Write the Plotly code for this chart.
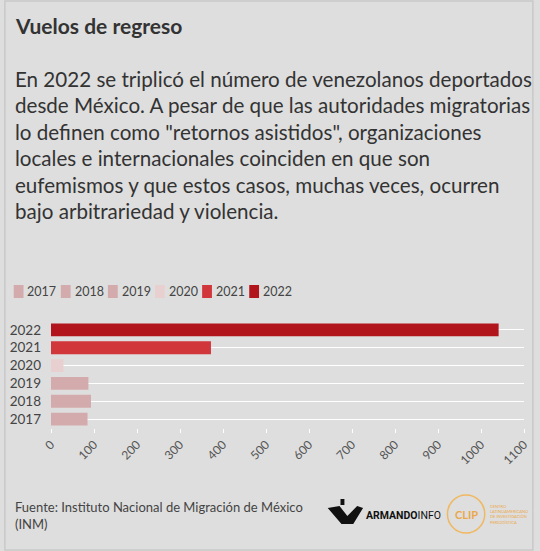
import plotly.graph_objects as go

years = ["2017", "2018", "2019", "2020", "2021", "2022"]
values = [85, 93, 87, 29, 372, 1041]
colors = ["#d4abac", "#d4abac", "#d4abac", "#e9d0d0", "#d1363b", "#b1151b"]
x_ticks = list(range(0, 1101, 100))

title = "Vuelos de regreso"
subtitle_lines = [
    "En 2022 se triplicó el número de venezolanos deportados",
    "desde México. A pesar de que las autoridades migratorias",
    "lo definen como \"retornos asistidos\", organizaciones",
    "locales e internacionales coinciden en que son",
    "eufemismos y que estos casos, muchas veces, ocurren",
    "bajo arbitrariedad y violencia.",
]
source = "Fuente: Instituto Nacional de Migración de México<br>(INM)"

FW, FH = 540, 551
L, R, T, B = 48, 10, 321, 123
W = FW - L - R
H = FH - T - B
FONT = "Lato, 'Source Sans Pro', sans-serif"


def px(x):
    return (x - L) / W


def py(y):
    return (FH - B - y) / H


fig = go.Figure()
for yr, v, c in zip(years, values, colors):
    fig.add_trace(go.Bar(y=[yr], x=[v], orientation="h", name=yr,
                         marker=dict(color=c, line=dict(width=0)),
                         showlegend=False))

shapes = []
annotations = []

# border
shapes.append(dict(type="rect", xref="paper", yref="paper",
                   x0=px(1), x1=px(539), y0=py(550), y1=py(1),
                   line=dict(color="#c9c9c9", width=1.5), fillcolor="rgba(0,0,0,0)",
                   layer="below"))

# manual legend
for i, (yr, c) in enumerate(zip(years, colors)):
    x0 = 10 + 48 * i
    shapes.append(dict(type="rect", xref="paper", yref="paper",
                       x0=px(x0), x1=px(x0 + 10), y0=py(298), y1=py(285),
                       fillcolor=c, line=dict(width=0)))
    annotations.append(dict(text=yr, xref="paper", yref="paper",
                            x=px(x0 + 12), y=py(291.5), xanchor="left", yanchor="middle",
                            showarrow=False, font=dict(size=12.5, color="#444", family=FONT)))

annotations.append(dict(text="<b>" + title + "</b>", xref="paper", yref="paper",
                        x=px(9), y=py(25), xanchor="left", yanchor="middle",
                        showarrow=False, font=dict(size=21, color="#333", family=FONT)))
for i, line in enumerate(subtitle_lines):
    annotations.append(dict(text=line, xref="paper", yref="paper",
                            x=px(9), y=py(79 + 26.4 * i), xanchor="left", yanchor="middle",
                            showarrow=False, font=dict(size=20.6, color="#333", family=FONT)))
annotations.append(dict(text=source, xref="paper", yref="paper",
                        x=px(9), y=py(497), xanchor="left", yanchor="top", align="left",
                        showarrow=False, font=dict(size=13, color="#444", family=FONT)))

# ARMANDOINFO logo (approximation)
shapes.append(dict(type="path", xref="paper", yref="paper",
                   path=(f"M {px(330)},{py(508)} L {px(342)},{py(506)} L {px(350)},{py(516)} "
                         f"L {px(360)},{py(506)} L {px(366)},{py(508)} L {px(356)},{py(524)} "
                         f"L {px(344)},{py(524)} Z"),
                   fillcolor="#111", line=dict(width=0)))
shapes.append(dict(type="rect", xref="paper", yref="paper",
                   x0=px(343), x1=px(347), y0=py(505), y1=py(499),
                   fillcolor="#111", line=dict(width=0)))
annotations.append(dict(text="<b>ARMANDO</b>INFO", xref="paper", yref="paper",
                        x=px(367), y=py(515), xanchor="left", yanchor="middle",
                        showarrow=False,
                        font=dict(size=10.5, color="#111", family="'Liberation Sans Narrow', 'Roboto', sans-serif")))

# CLIP logo (approximation)
shapes.append(dict(type="circle", xref="paper", yref="paper",
                   x0=px(452), x1=px(490), y0=py(533), y1=py(495),
                   line=dict(color="#f0b860", width=1.5), fillcolor="rgba(0,0,0,0)"))
annotations.append(dict(text="<b>CLIP</b>", xref="paper", yref="paper",
                        x=px(471), y=py(514), xanchor="center", yanchor="middle",
                        showarrow=False, font=dict(size=11, color="#eba84a", family=FONT)))
annotations.append(dict(text="CENTRO<br>LATINOAMERICANO<br>DE INVESTIGACIÓN<br>PERIODÍSTICA",
                        xref="paper", yref="paper",
                        x=px(493), y=py(514), xanchor="left", yanchor="middle", align="left",
                        showarrow=False, font=dict(size=4, color="#eba84a", family=FONT)))

fig.update_layout(
    width=FW, height=FH,
    margin=dict(l=L, r=R, t=T, b=B),
    paper_bgcolor="#dedede", plot_bgcolor="#dedede",
    barmode="overlay", bargap=0.28,
    showlegend=False,
    font=dict(family=FONT, color="#555"),
    shapes=shapes, annotations=annotations,
    xaxis=dict(range=[0, 1100], tickvals=x_ticks, tickangle=-45,
               showgrid=False, zeroline=False, showline=False,
               ticks="outside", ticklen=4, tickcolor="#ffffff",
               tickfont=dict(size=12, color="#555", family=FONT), fixedrange=True),
    yaxis=dict(categoryorder="array", categoryarray=years,
               showgrid=True, gridcolor="#ffffff", gridwidth=1.2,
               zeroline=False, showline=False, ticks="",
               ticklabelstandoff=9,
               tickfont=dict(size=13.5, color="#444", family=FONT), fixedrange=True),
)

fig.write_html("out.html", config={"displayModeBar": False},
               post_script="document.body.style.margin='0';document.body.style.overflow='hidden';")
